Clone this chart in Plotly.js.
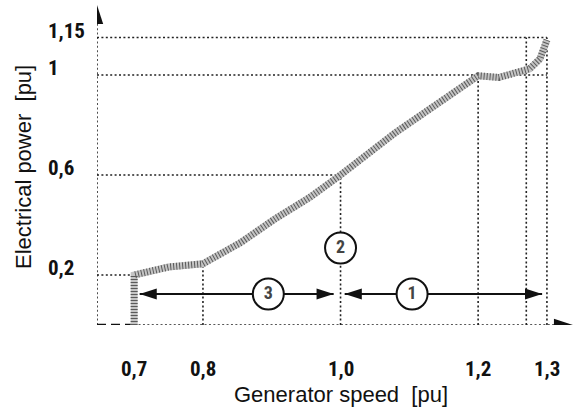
<!DOCTYPE html>
<html>
<head>
<meta charset="utf-8">
<script src="https://cdn.plot.ly/plotly-3.0.1.min.js"></script>
<style>html,body{margin:0;padding:0;background:#fff;}#chart{width:576px;height:409px;}</style>
</head>
<body>
<div id="chart"></div>
<script>
// ---- data ----
var speed = [0.7, 0.7, 0.75, 0.8, 0.855, 0.905, 0.955, 1.0, 1.08, 1.145, 1.2, 1.23, 1.25, 1.275, 1.29, 1.3];
var power = [0.0, 0.2, 0.232, 0.245, 0.33, 0.425, 0.51, 0.6, 0.77, 0.895, 0.997, 0.99, 1.003, 1.025, 1.065, 1.14];

var xTickVals = [0.7, 0.8, 1.0, 1.2, 1.3];
var xTickText = ['0,7', '0,8', '1,0', '1,2', '1,3'];
var yTickVals = [0.2, 0.6, 1.0, 1.15];
var yTickText = ['0,2', '0,6', '1', '1,15'];

// horizontal guide lines: level and the speed where they end
var hGuideLevel = [1.15, 1.0, 0.6, 0.2];
var hGuideEnd   = [1.3, 1.3, 1.0, 0.7];
// vertical guide lines: speed and the power where they end
var vGuideSpeed = [0.8, 1.0, 1.2, 1.27, 1.3];
var vGuideTop   = [0.245, 0.6, 1.0, 1.15, 1.15];

// operating regions (double arrows with circled numbers)
var regionLabel = ['3', '1'];
var regionStart = [0.708, 1.006];
var regionEnd   = [0.99, 1.293];
var regionMid   = [0.895, 1.104];
var regionLevel = [0.124, 0.124];
var markLabel = ['2'];
var markSpeed = [1.0];
var markPower = [0.308];

var xMin = 0.646, xMax = 1.3408, yMin = 0, yMax = 1.284;

var tickFont = {family: 'Roboto Condensed, Roboto, sans-serif', weight: 'bold', size: 21, color: '#111'};
var titleFont = {family: 'Liberation Sans, Arial, sans-serif', size: 22, color: '#111'};
var dotDash = '2px,2.4px';

var traces = [];
// guide lines
for (var i = 0; i < hGuideLevel.length; i++) {
  traces.push({x: [xMin, hGuideEnd[i]], y: [hGuideLevel[i], hGuideLevel[i]], mode: 'lines',
    line: {color: '#222', width: 1.6, dash: dotDash}, hoverinfo: 'skip'});
}
for (var j = 0; j < vGuideSpeed.length; j++) {
  traces.push({x: [vGuideSpeed[j], vGuideSpeed[j]], y: [yMin, vGuideTop[j]], mode: 'lines',
    line: {color: '#222', width: 1.6, dash: dotDash}, hoverinfo: 'skip'});
}
// axes: y axis dotted, x axis dashed then dotted
traces.push({x: [xMin, xMin], y: [yMin, 1.23], mode: 'lines', line: {color: '#222', width: 1.6, dash: dotDash}, hoverinfo: 'skip'});
traces.push({x: [xMin, speed[0]], y: [0, 0], mode: 'lines', line: {color: '#111', width: 2.6, dash: '9px,5px'}, hoverinfo: 'skip'});
traces.push({x: [speed[0], 1.32], y: [0, 0], mode: 'lines', line: {color: '#222', width: 1.6, dash: dotDash}, hoverinfo: 'skip'});
// axis arrowheads
traces.push({x: [xMin, xMax - 0.003], y: [yMax - 0.004, 0], mode: 'markers',
  marker: {symbol: 'arrow', size: 20, color: '#111', angle: [0, 90]}, hoverinfo: 'skip'});

// power curve (hatched grey band)
traces.push({x: speed, y: power, mode: 'lines', line: {color: '#c4c4c4', width: 7}, hoverinfo: 'skip'});
traces.push({x: speed, y: power, mode: 'lines', line: {color: '#5a5a5a', width: 7, dash: '1px,2px'}, hoverinfo: 'skip'});

// region double arrows
for (var k = 0; k < regionLabel.length; k++) {
  traces.push({x: [regionStart[k], regionEnd[k]], y: [regionLevel[k], regionLevel[k]], mode: 'lines',
    line: {color: '#111', width: 2}, hoverinfo: 'skip'});
  traces.push({x: [regionStart[k], regionEnd[k]], y: [regionLevel[k], regionLevel[k]], mode: 'markers',
    marker: {symbol: 'arrow', size: 18, color: '#111', angle: [-90, 90]}, hoverinfo: 'skip'});
}
// circled labels
traces.push({x: regionMid.concat(markSpeed), y: regionLevel.concat(markPower), mode: 'markers+text',
  text: regionLabel.concat(markLabel), textposition: 'middle center',
  textfont: {family: 'Roboto Condensed, Roboto, sans-serif', weight: 'bold', size: 18, color: '#444'},
  marker: {symbol: 'circle', size: 31, color: '#fff', line: {color: '#111', width: 2}}, hoverinfo: 'skip'});

var annotations = [];
for (var a = 0; a < xTickVals.length; a++) {
  annotations.push({x: xTickVals[a], xref: 'x', y: -0.138, yref: 'paper', text: xTickText[a],
    showarrow: false, xanchor: 'center', yanchor: 'middle', font: tickFont});
}
for (var b = 0; b < yTickVals.length; b++) {
  annotations.push({x: -0.106, xref: 'paper', y: yTickVals[b], yref: 'y', yshift: 7, text: yTickText[b],
    showarrow: false, xanchor: 'left', yanchor: 'middle', font: tickFont});
}
annotations.push({x: 0.5105, xref: 'paper', y: -0.218, yref: 'paper', text: 'Generator speed  [pu]',
  showarrow: false, xanchor: 'center', yanchor: 'middle', font: titleFont});
annotations.push({x: -0.155, xref: 'paper', y: 0.492, yref: 'paper', text: 'Electrical power  [pu]', textangle: -90,
  showarrow: false, xanchor: 'center', yanchor: 'middle', font: titleFont});

var layout = {
  width: 576, height: 409,
  margin: {l: 97, r: 1, t: 4, b: 84},
  paper_bgcolor: '#fff', plot_bgcolor: '#fff',
  showlegend: false,
  xaxis: {range: [xMin, xMax], showgrid: false, zeroline: false, showline: false, showticklabels: false, ticks: ''},
  yaxis: {range: [yMin, yMax], showgrid: false, zeroline: false, showline: false, showticklabels: false, ticks: ''},
  annotations: annotations
};
Plotly.newPlot('chart', traces, layout, {displayModeBar: false, staticPlot: true});
</script>
</body>
</html>
